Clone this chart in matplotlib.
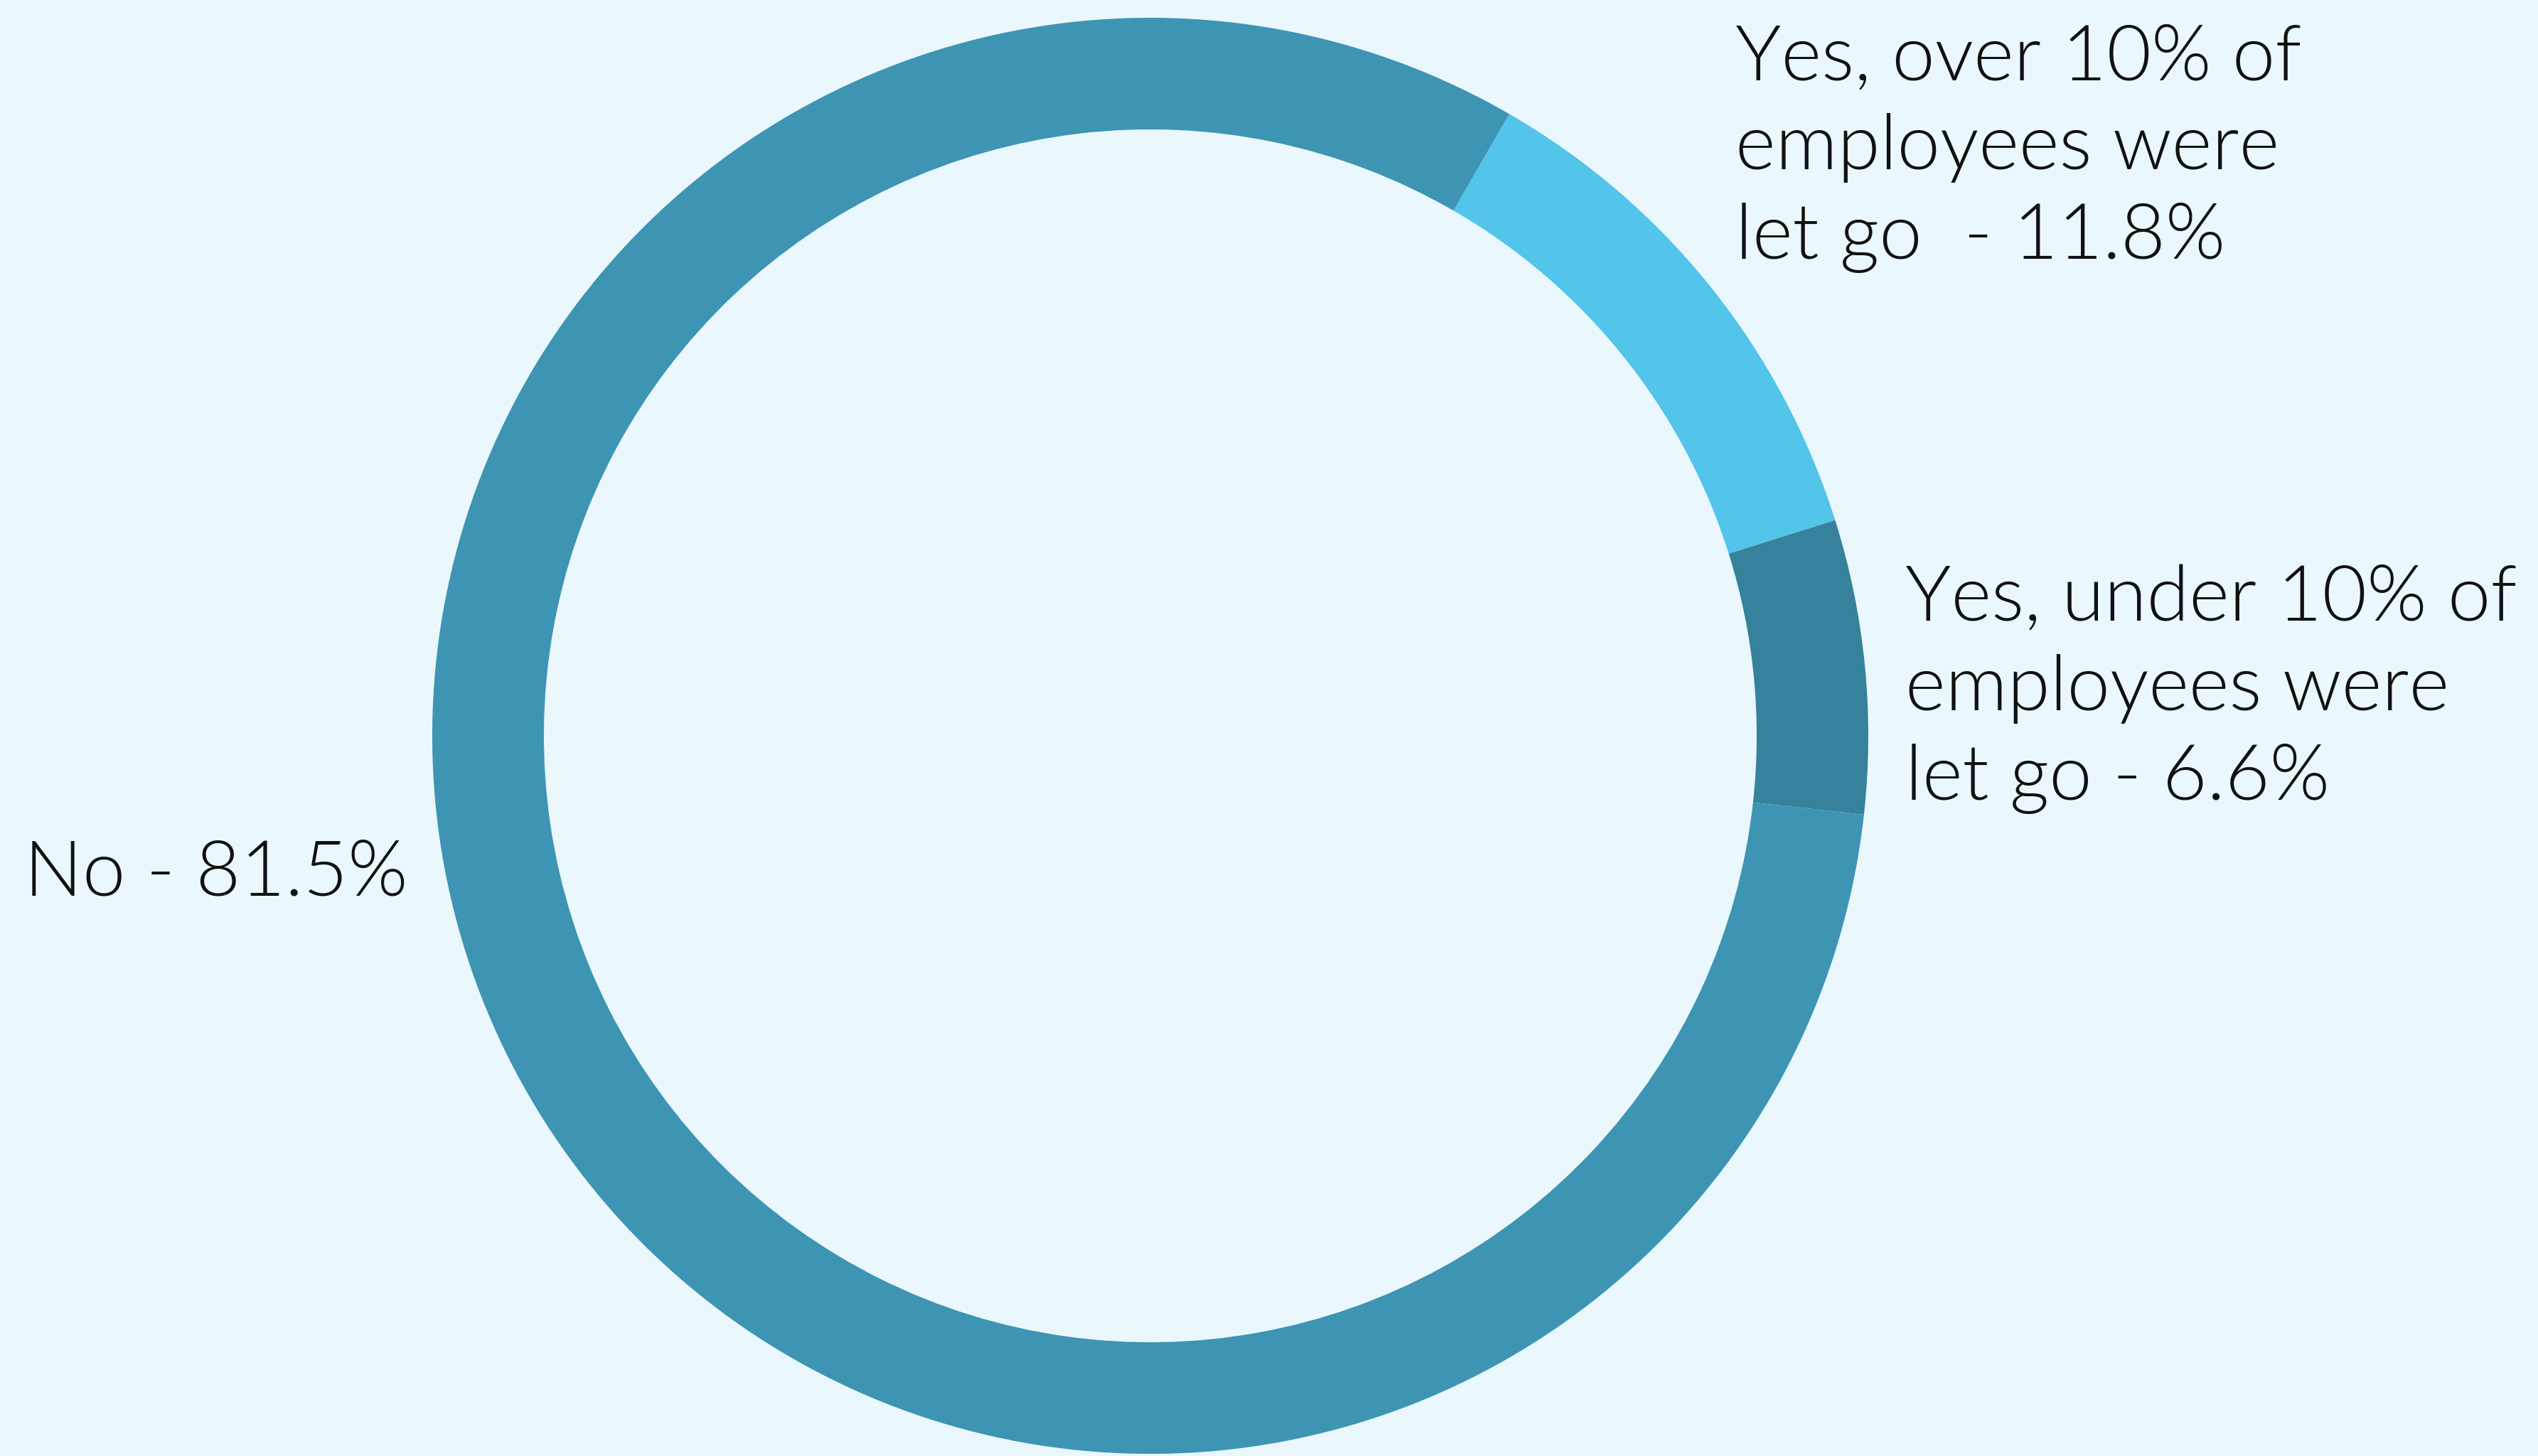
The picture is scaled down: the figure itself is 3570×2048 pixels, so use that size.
import matplotlib.pyplot as plt

# Survey answers, in clockwise order starting from the top right
labels = ['Yes, over 10% of\nemployees were\nlet go  - 11.8%',
          'Yes, under 10% of\nemployees were\nlet go - 6.6%',
          'No - 81.5%']
shares = [11.8, 6.6, 81.5]
colors = ['#53C4EA', '#36829C', '#3E95B3']

BG = '#EAF8FE'
W, H = 3570, 2048

fig = plt.figure(figsize=(W / 100, H / 100), dpi=100, facecolor=BG)
ax = fig.add_axes([0, 0, 1, 1])
ax.set_facecolor(BG)

# donut ring
ax.pie(shares, colors=colors, startangle=60, counterclock=False,
       center=(1618, H - 1035), radius=1010,
       wedgeprops=dict(width=157, linewidth=0), frame=True)
ax.set_xlim(0, W)
ax.set_ylim(0, H)
ax.set_aspect('equal')
ax.axis('off')

# label anchors: left x and first baseline (pixels from the top)
label_pos = [(2441, 112), (2680, 873), (34, 1259)]
line_step = 126

for text, (x, y) in zip(labels, label_pos):
    for i, line in enumerate(text.split('\n')):
        ax.text(x, H - (y + i * line_step), line, ha='left', va='baseline',
                fontsize=78, family='Lato', fontweight=300, color='#111111')

fig.savefig('out.png', dpi=100, facecolor=BG)
